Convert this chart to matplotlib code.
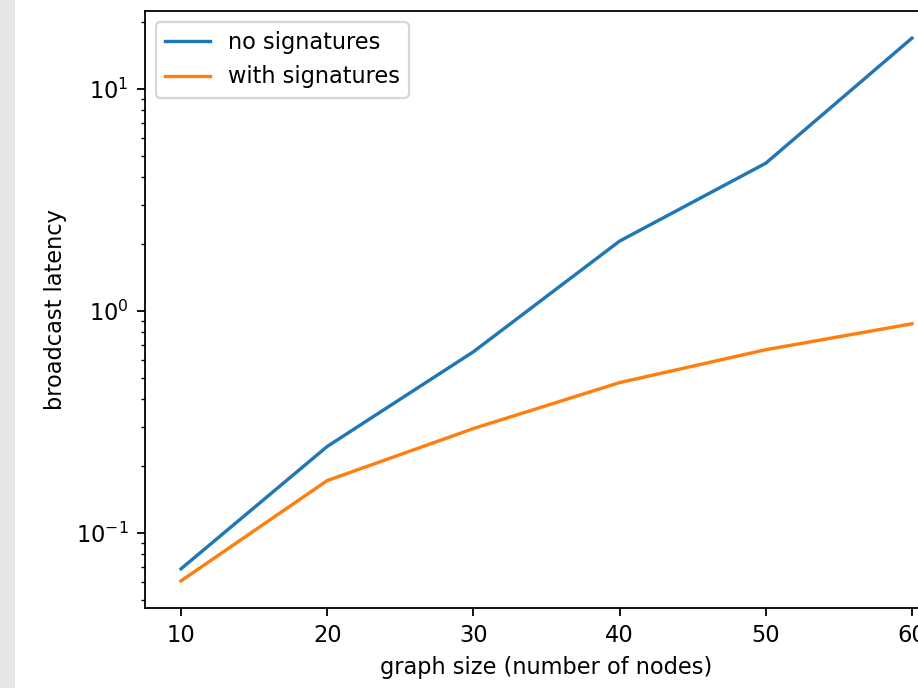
import matplotlib
matplotlib.use("Agg")
import matplotlib.pyplot as plt
from matplotlib.patches import Rectangle

graph_size = [10, 20, 30, 40, 50, 60]
no_signatures = [0.0689, 0.245, 0.654, 2.06, 4.62, 16.9]
with_signatures = [0.0608, 0.172, 0.295, 0.475, 0.668, 0.874]

DPI = 162
fig = plt.figure(figsize=(918 / DPI, 688 / DPI), dpi=DPI)
fig.patches.append(Rectangle((0, 0), 15 / 918, 1, transform=fig.transFigure,
                             facecolor="#e6e6e6", edgecolor="none", zorder=-1))

ax = fig.add_axes([144.5 / 918, 80 / 688, 804 / 918, 597 / 688])
ax.plot(graph_size, no_signatures, label="no signatures")
ax.plot(graph_size, with_signatures, label="with signatures")
ax.set_yscale("log")
ax.set_xlabel("graph size (number of nodes)")
ax.set_ylabel("broadcast latency")
ax.legend(loc="upper left")

fig.savefig("out.png", dpi=DPI)
